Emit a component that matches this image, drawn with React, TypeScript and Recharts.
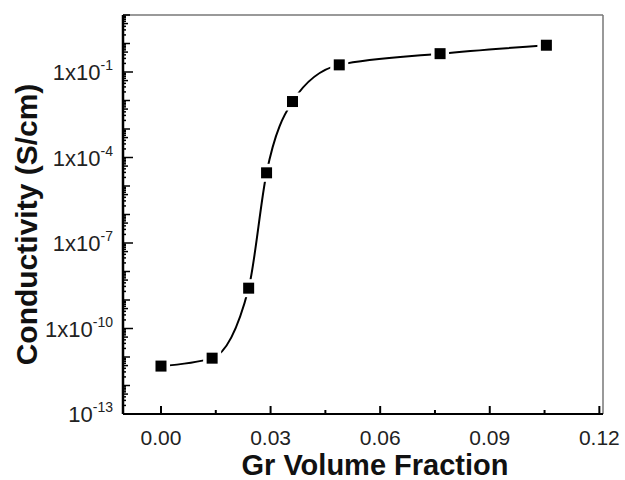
import { ComposedChart, Line, XAxis, YAxis, Label, ReferenceLine } from 'recharts';

const volumeFraction = [0.0, 0.014, 0.024, 0.0289, 0.036, 0.0488, 0.0764, 0.1055];
const conductivity = [4.8e-12, 9.1e-12, 2.6e-9, 2.9e-5, 9.2e-3, 0.178, 0.44, 0.87];

const xTicks = [0, 0.015, 0.03, 0.045, 0.06, 0.075, 0.09, 0.105, 0.12];
const xLabels = ['0.00', '0.03', '0.06', '0.09', '0.12'];
const yLabelExps = [-13, -10, -7, -4, -1];

const xMin = -0.0104;
const xMax = 0.121;
const yMin = 1e-13;
const yMax = 10;

// every mantissa of every decade between 1e-13 and 1e1, for the dense Origin-style minor ticks
const yTicks: number[] = [];
for (let e = -13; e <= 0; e++) {
  for (let k = 1; k <= 9; k++) yTicks.push(Number((k + 'e' + e)));
}
yTicks.push(10);

const data = volumeFraction.map((x, i) => ({ x, y: conductivity[i] }));

const font = '"Liberation Sans", Arial, sans-serif';

function XTick(props: any) {
  const { x, y, payload } = props;
  const v = payload.value;
  const label = xLabels.find((l) => Math.abs(parseFloat(l) - v) < 1e-6);
  return (
    <g>
      <line x1={x} x2={x} y1={y} y2={y - (label ? 8 : 4)} stroke="#000" strokeWidth={2} />
      {label && (
        <text x={x} y={y + 31} textAnchor="middle" fontSize={21} fontFamily={font} fill="#222">
          {label}
        </text>
      )}
    </g>
  );
}

function YTick(props: any) {
  const { x, y, payload } = props;
  const v = payload.value;
  const exp = Math.round(Math.log10(v));
  const isDecade = Math.abs(v - Math.pow(10, exp)) / v < 1e-6;
  const mant = Math.round(v / Math.pow(10, Math.floor(Math.log10(v) + 1e-9)));
  const labelled = isDecade && yLabelExps.includes(exp);
  let len = 3;
  if (labelled) len = 10;
  else if (isDecade) len = 7;
  else if (mant === 5) len = 5;
  return (
    <g>
      <line x1={x} x2={x + len} y1={y} y2={y} stroke="#000" strokeWidth={1.5} />
      {labelled && (
        <text x={x - 10} y={y + 8} textAnchor="end" fontSize={22} fontFamily={font} fill="#222">
          {exp === -13 ? '10' : '1x10'}
          <tspan dy={-10} fontSize={14}>{'-' + Math.abs(exp)}</tspan>
        </text>
      )}
    </g>
  );
}

function Marker(props: any) {
  const { cx, cy } = props;
  return (
    <g>
      <rect x={cx - 9} y={cy - 9} width={18} height={18} fill="#fff" />
      <rect x={cx - 5.5} y={cy - 5.5} width={11} height={11} fill="#000" />
    </g>
  );
}

export default function App() {
  return (
    <div style={{ position: 'absolute', left: 0, top: 0, background: '#fff' }}>
      <ComposedChart width={625} height={480} data={data} margin={{ top: 15, right: 22, left: 0, bottom: 0 }}>
        <XAxis
          dataKey="x"
          type="number"
          domain={[xMin, xMax]}
          allowDataOverflow
          ticks={xTicks}
          interval={0}
          tick={<XTick />}
          tickSize={0}
          tickMargin={0}
          tickLine={false}
          axisLine={{ stroke: '#000', strokeWidth: 2 }}
          height={66}
        >
          <Label
            content={({ viewBox }: any) => (
              <text
                x={viewBox.x + viewBox.width / 2 + 12}
                y={viewBox.y + 61}
                textAnchor="middle"
                fontSize={29}
                fontWeight="bold"
                fontFamily={font}
                fill="#111"
              >
                Gr Volume Fraction
              </text>
            )}
          />
        </XAxis>
        <YAxis
          dataKey="y"
          scale="log"
          type="number"
          domain={[yMin, yMax]}
          allowDataOverflow
          ticks={yTicks}
          interval={0}
          tick={<YTick />}
          tickSize={0}
          tickMargin={0}
          tickLine={false}
          axisLine={{ stroke: '#000', strokeWidth: 2.5 }}
          width={123}
        >
          <Label
            content={({ viewBox }: any) => {
              const cy = viewBox.y + viewBox.height / 2 + 10;
              return (
                <text
                  x={37}
                  y={cy}
                  transform={`rotate(-90, 37, ${cy})`}
                  textAnchor="middle"
                  fontSize={30}
                  fontWeight="bold"
                  fontFamily={font}
                  fill="#111"
                >
                  Conductivity (S/cm)
                </text>
              );
            }}
          />
        </YAxis>
        <ReferenceLine y={yMax} stroke="#777" strokeWidth={1.5} />
        <ReferenceLine x={xMax} stroke="#777" strokeWidth={1.5} />
        <Line
          dataKey="y"
          type="monotone"
          stroke="#000"
          strokeWidth={2}
          dot={<Marker />}
          activeDot={false}
          isAnimationActive={false}
        />
      </ComposedChart>
    </div>
  );
}
